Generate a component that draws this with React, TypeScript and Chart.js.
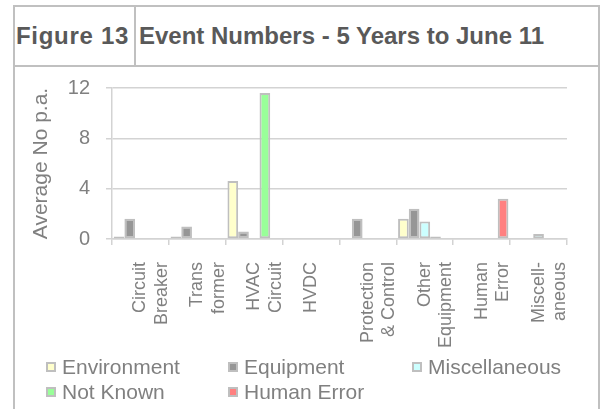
import React, { useEffect, useRef } from "react";
import { Chart, registerables } from "chart.js";

Chart.register(...registerables);

const titleLeft = "Figure 13";
const titleRight = "Event Numbers - 5 Years to June 11";
const yAxisTitle = "Average No p.a.";

const categories: (string | string[])[] = [
  ["Circuit", "Breaker"],
  ["Trans", "former"],
  ["HVAC", "Circuit"],
  "HVDC",
  ["Protection", "& Control"],
  ["Other", "Equipment"],
  ["Human", "Error"],
  ["Miscell-", "aneous"],
];

const seriesNames = ["Environment", "Equipment", "Miscellaneous", "Not Known", "Human Error"];
const environment = [0.2, 0.2, 4.6, null, null, 1.6, null, null];
const equipment = [1.6, 1.0, 0.6, null, 1.6, 2.4, null, null];
const miscellaneous = [null, null, null, null, null, 1.4, null, 0.4];
const notKnown = [null, null, 11.6, null, null, 0.2, null, null];
const humanError = [null, null, null, null, null, null, 3.2, null];
const seriesColors = ["#FFFFCC", "#969696", "#CCFFFF", "#99FF99", "#FF8080"];
const yTicks = [0, 4, 8, 12];

const FONT = "'Liberation Sans', Arial, sans-serif";
const TEXT = "#808080";
const GRID = "#d3d3d3";
const FRAME = "#c0c0c0";

export default function App() {
  const ref = useRef<HTMLCanvasElement | null>(null);

  useEffect(() => {
    if (!ref.current) return;
    const values = [environment, equipment, miscellaneous, notKnown, humanError];
    const chart = new Chart(ref.current, {
      type: "bar",
      data: {
        labels: categories as any,
        datasets: seriesNames.map((name, i) => ({
          label: name,
          data: values[i] as any,
          backgroundColor: seriesColors[i],
          borderColor: "#bfbfbf",
          borderWidth: 2,
          borderSkipped: false,
          categoryPercentage: 0.94,
          barPercentage: 1,
        })),
      },
      options: {
        animation: false,
        responsive: false,
        devicePixelRatio: 1,
        layout: { padding: { left: 0, right: 20, top: 88, bottom: 0 } },
        plugins: { legend: { display: false }, title: { display: false }, tooltip: { enabled: false } },
        scales: {
          x: {
            offset: true,
            grid: {
              display: true,
              drawOnChartArea: false,
              drawTicks: true,
              tickLength: 6,
              color: GRID,
              lineWidth: 1.5,
              offset: true,
            },
            border: { color: GRID, width: 1.5 },
            ticks: {
              minRotation: 90,
              maxRotation: 90,
              autoSkip: false,
              padding: 17,
              color: TEXT,
              font: { family: FONT, size: 18 },
            },
            afterFit: (s: any) => {
              s.height = 170;
            },
          },
          y: {
            min: 0,
            max: 12,
            afterBuildTicks: (s: any) => {
              s.ticks = yTicks.map((v) => ({ value: v }));
            },
            grid: { color: GRID, lineWidth: 1.5, tickLength: 6 },
            border: { color: GRID, width: 1.5 },
            ticks: {
              padding: 16,
              color: TEXT,
              font: { family: FONT, size: 20 },
            },
            title: {
              display: true,
              text: yAxisTitle,
              color: TEXT,
              font: { family: FONT, size: 21 },
              padding: { top: 29, bottom: 0 },
            },
            afterFit: (s: any) => {
              s.width = 112;
            },
          },
        },
      },
    });
    return () => chart.destroy();
  }, []);

  return (
    <div
      style={{
        position: "fixed",
        left: 0,
        top: 0,
        width: 600,
        height: 409,
        background: "#ffffff",
        overflow: "hidden",
        fontFamily: FONT,
      }}
    >
      {/* frame */}
      <div style={{ position: "absolute", left: 13, top: 5, width: 587, height: 2, background: FRAME }} />
      <div style={{ position: "absolute", left: 13, top: 5, width: 2, height: 404, background: FRAME }} />
      <div style={{ position: "absolute", left: 598, top: 5, width: 2, height: 404, background: FRAME }} />
      <div style={{ position: "absolute", left: 13, top: 65, width: 587, height: 2, background: FRAME }} />
      <div style={{ position: "absolute", left: 134, top: 5, width: 2, height: 62, background: FRAME }} />
      <div
        style={{
          position: "absolute",
          left: 16,
          top: 7,
          height: 58,
          lineHeight: "58px",
          fontSize: 24,
          fontWeight: "bold",
          color: "#595959",
          whiteSpace: "nowrap",
          letterSpacing: "0.7px",
        }}
      >
        {titleLeft}
      </div>
      <div
        style={{
          position: "absolute",
          left: 139,
          top: 7,
          height: 58,
          lineHeight: "58px",
          fontSize: 24,
          fontWeight: "bold",
          color: "#595959",
          whiteSpace: "nowrap",
        }}
      >
        {titleRight}
      </div>
      <canvas
        ref={ref}
        width={600}
        height={409}
        style={{ position: "absolute", left: 0, top: 0, width: 600, height: 409 }}
      />
      {/* legend */}
      <div
        style={{
          position: "absolute",
          left: 46,
          top: 354,
          display: "grid",
          gridTemplateColumns: "182px 184px auto",
          rowGap: 0,
        }}
      >
        {seriesNames.map((name, i) => (
          <div key={name} style={{ display: "flex", alignItems: "center", height: 25 }}>
            <span
              style={{
                display: "inline-block",
                boxSizing: "border-box",
                width: 10,
                height: 10,
                border: "2px solid #bfbfbf",
                background: seriesColors[i],
                marginRight: 6,
                flex: "none",
              }}
            />
            <span style={{ fontSize: 21, color: TEXT, lineHeight: "25px", whiteSpace: "nowrap" }}>{name}</span>
          </div>
        ))}
      </div>
    </div>
  );
}
